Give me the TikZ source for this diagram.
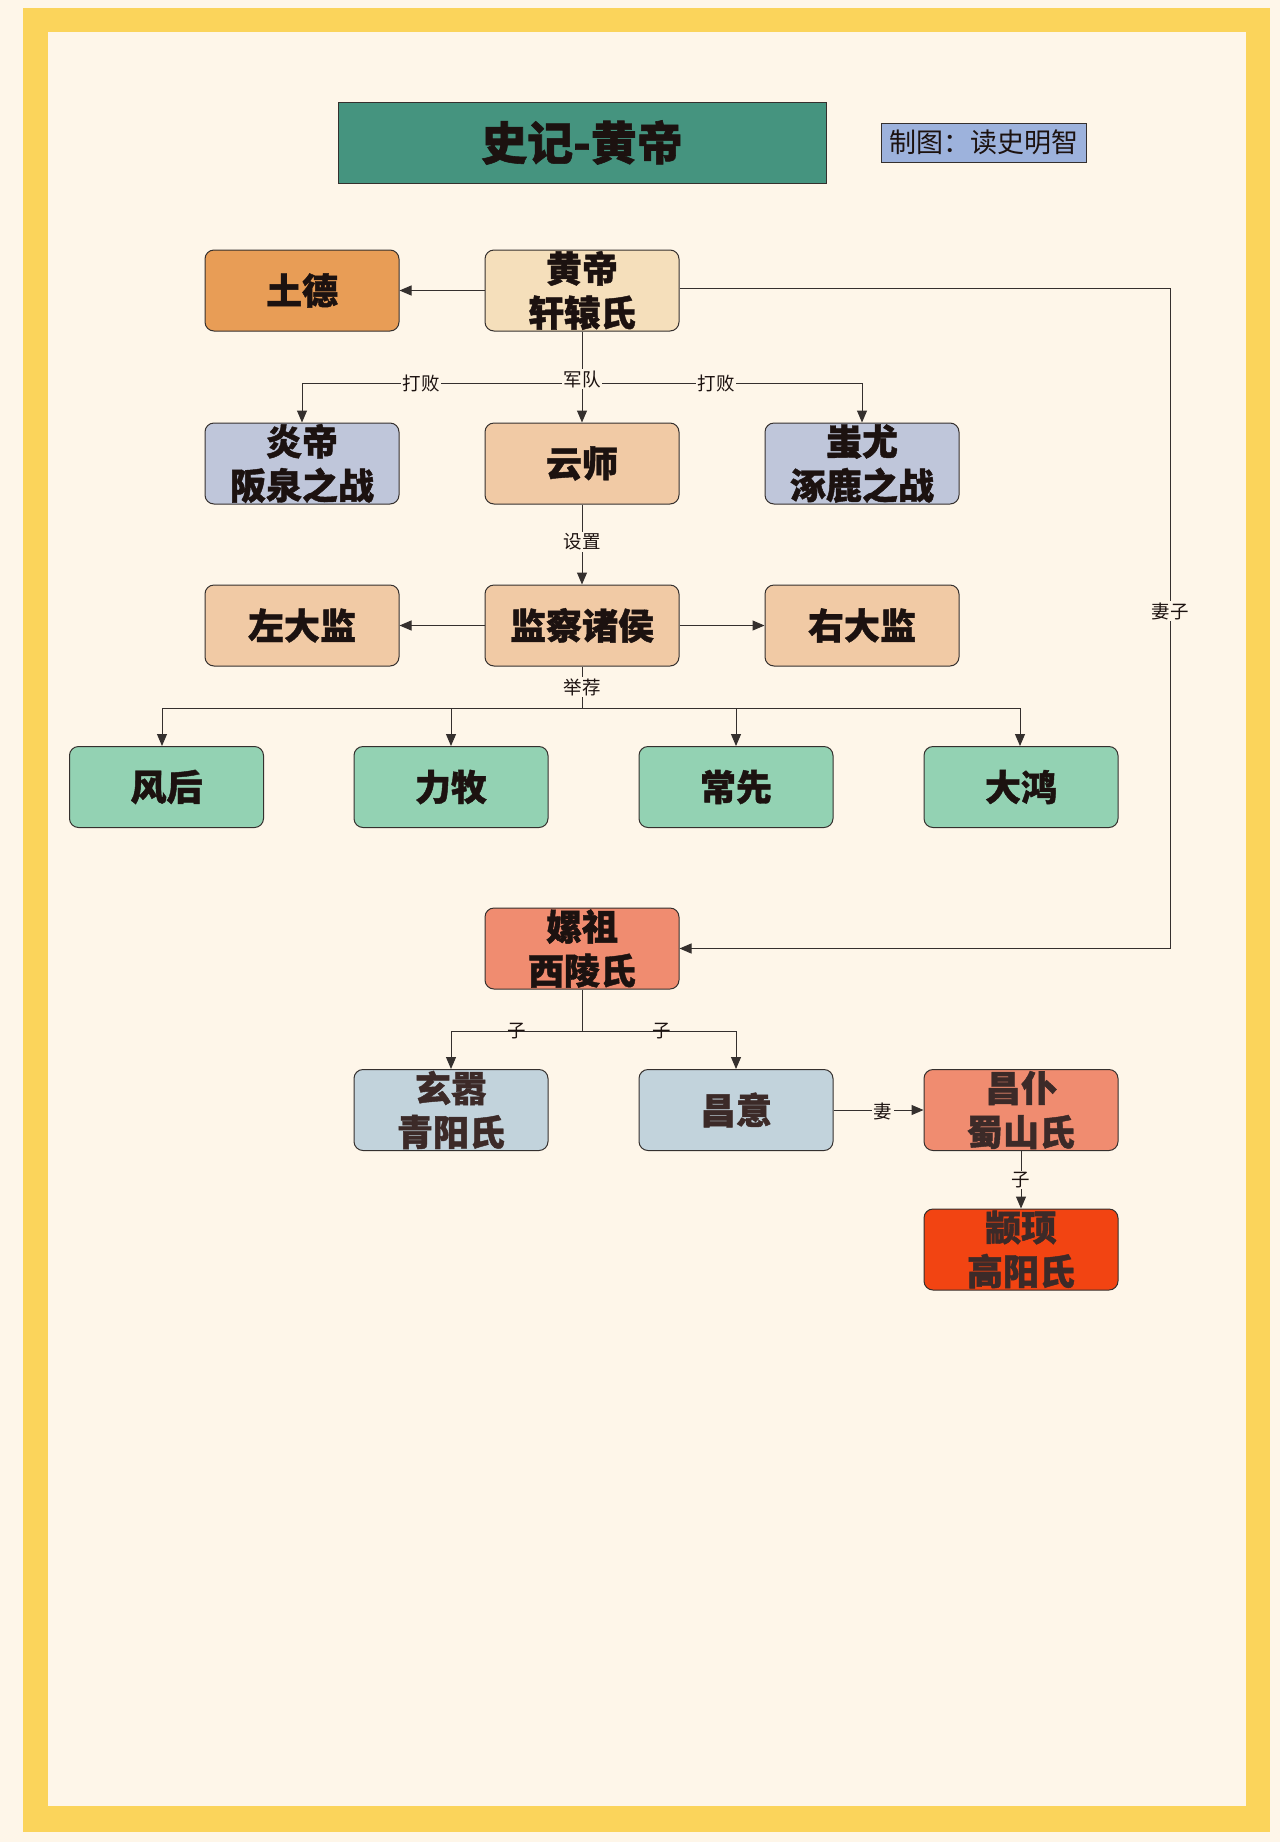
\documentclass[tikz,border=0pt]{standalone}
\usepackage{fontspec}
\usetikzlibrary{arrows.meta}
\setmainfont{Noto Sans CJK SC}[BoldFeatures={FakeBold=1.2}]
\definecolor{bgc}{HTML}{FEF6E9}
\definecolor{framec}{HTML}{FBD45B}
\definecolor{inkc}{HTML}{1C1210}
\definecolor{softink}{HTML}{3C2A28}
\definecolor{linec}{HTML}{35302E}
\tikzset{
  box/.style={draw=linec,line width=1pt,rounded corners=9pt,minimum width=194pt,minimum height=81pt,inner sep=0pt,align=center,text=inkc,font=\fontsize{36}{44}\selectfont\bfseries},
  softbox/.style={box,text=softink},
  lbl/.style={fill=bgc,inner sep=1.5pt,text=inkc,font=\fontsize{18.5}{20}\selectfont},
  conn/.style={draw=linec,line width=1pt},
  arr/.style={conn,-{Triangle[length=12pt,width=10pt]}}
}
\begin{document}
\begin{tikzpicture}[x=1pt,y=-1pt]
\useasboundingbox (0,0) rectangle (1280,1842);
\fill[bgc] (0,0) rectangle (1280,1842);
\fill[framec] (23,8) rectangle (1270,1832);
\fill[bgc] (47.5,32) rectangle (1246,1806);
% title
\node[draw=linec,line width=1pt,fill={rgb,255:red,69;green,148;blue,127},minimum width=488pt,minimum height=81pt,inner sep=0pt,text=inkc,font=\fontsize{46}{50}\selectfont\bfseries] (title) at (582,142.5) {史记-黄帝};
\node[draw=linec,line width=1pt,fill={rgb,255:red,157;green,178;blue,220},minimum width=205pt,minimum height=39pt,inner sep=0pt,text=inkc,font=\fontsize{27}{30}\selectfont] (credit) at (983.5,142.5) {制图：读史明智};
% row 1
\node[box,fill={rgb,255:red,232;green,157;blue,86}] (td) at (302,290.5) {土德};
\node[box,fill={rgb,255:red,245;green,223;blue,187}] (hd) at (582,290.5) {黄帝\\轩辕氏};
% row 2
\node[box,fill={rgb,255:red,191;green,198;blue,218}] (yd) at (302,463.5) {炎帝\\阪泉之战};
\node[box,fill={rgb,255:red,241;green,202;blue,165}] (ys) at (582,463.5) {云师};
\node[box,fill={rgb,255:red,191;green,198;blue,218}] (cy) at (862,463.5) {蚩尤\\涿鹿之战};
% row 3
\node[box,fill={rgb,255:red,241;green,202;blue,165}] (zj) at (302,625.5) {左大监};
\node[box,fill={rgb,255:red,241;green,202;blue,165}] (jc) at (582,625.5) {监察诸侯};
\node[box,fill={rgb,255:red,241;green,202;blue,165}] (yj) at (862,625.5) {右大监};
% row 4
\node[box,fill={rgb,255:red,147;green,210;blue,179}] (fh) at (166.5,787) {风后};
\node[box,fill={rgb,255:red,147;green,210;blue,179}] (lm) at (451,787) {力牧};
\node[box,fill={rgb,255:red,147;green,210;blue,179}] (cx) at (736,787) {常先};
\node[box,fill={rgb,255:red,147;green,210;blue,179}] (dh) at (1021,787) {大鸿};
% row 5
\node[box,fill={rgb,255:red,240;green,140;blue,112}] (lz) at (582,948.5) {嫘祖\\西陵氏};
% row 6
\node[softbox,fill={rgb,255:red,194;green,211;blue,220}] (xx) at (451,1110) {玄嚣\\青阳氏};
\node[softbox,fill={rgb,255:red,194;green,211;blue,220}] (cyi) at (736,1110) {昌意};
\node[softbox,fill={rgb,255:red,240;green,140;blue,112}] (cp) at (1021,1110) {昌仆\\蜀山氏};
% row 7
\node[softbox,fill={rgb,255:red,242;green,68;blue,18}] (zx) at (1021,1249.5) {颛顼\\高阳氏};
% branch points
\coordinate (b1) at (582,383);
\coordinate (b2) at (582,708);
\coordinate (b3) at (582,1031);
\coordinate (b4) at (1170,288);
\coordinate (b5) at (1170,948.5);
% connectors
\draw[arr] (hd.west) -- (td.east);
\draw[arr] (hd.south) -- (ys.north);
\draw[arr] (b1) -| (yd.north);
\draw[arr] (b1) -| (cy.north);
\draw[arr] (ys.south) -- (jc.north);
\draw[arr] (jc.west) -- (zj.east);
\draw[arr] (jc.east) -- (yj.west);
\draw[conn] (jc.south) -- (b2);
\draw[arr] (b2) -| ([xshift=-4.5pt]fh.north);
\draw[arr] (b2) -| (lm.north);
\draw[arr] (b2) -| (cx.north);
\draw[arr] (b2) -| ([xshift=-1pt]dh.north);
\draw[conn] ([yshift=2.5pt]hd.east) -- (b4) -- (b5);
\draw[arr] (b5) -- (lz.east);
\draw[conn] (lz.south) -- (b3);
\draw[arr] (b3) -| (xx.north);
\draw[arr] (b3) -| (cyi.north);
\draw[arr] (cyi.east) -- (cp.west);
\draw[arr] (cp.south) -- (zx.north);
% labels
\node[lbl] (l1) at (421,383) {打败};
\node[lbl] (l2) at (582,379) {军队};
\node[lbl] (l3) at (716,383) {打败};
\node[lbl] (l4) at (582,542) {设置};
\node[lbl] (l5) at (582,687) {举荐};
\node[lbl] (l6) at (1170,611) {妻子};
\node[lbl,fill=none] (l7) at (517,1031) {子};
\node[lbl,fill=none] (l8) at (662,1031) {子};
\node[lbl] (l9) at (883,1111) {妻};
\node[lbl] (l10) at (1021,1180) {子};
\end{tikzpicture}
\end{document}
